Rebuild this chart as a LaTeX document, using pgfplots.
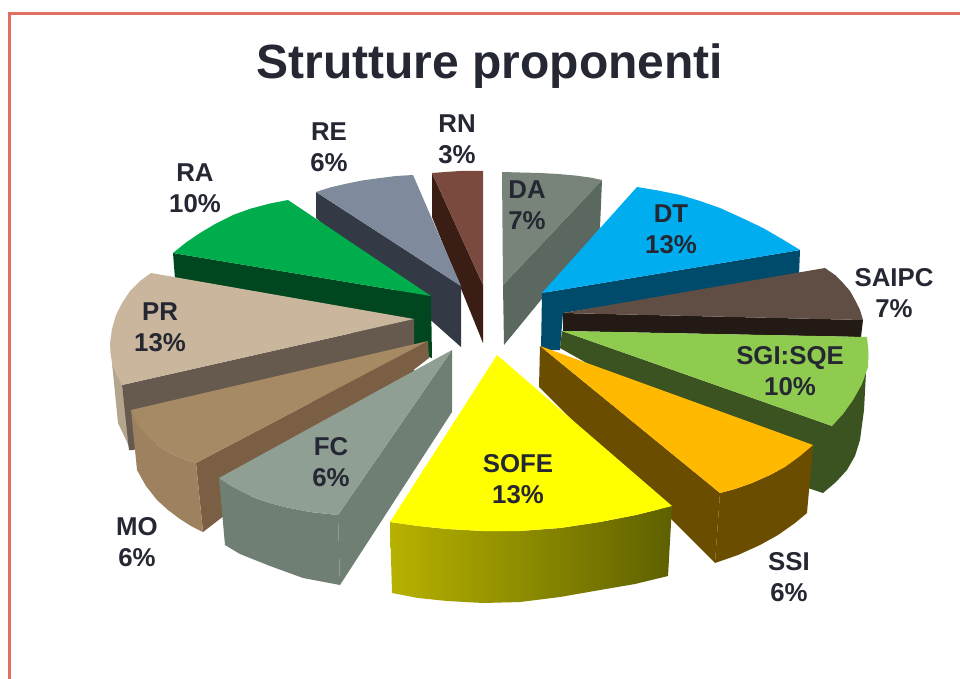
\documentclass[border=0pt]{standalone}
\usepackage{fontspec}
\setmainfont{Liberation Sans}
\usepackage{pgfplots}
\pgfplotsset{compat=1.18}
\definecolor{txt}{HTML}{252733}
\definecolor{bord}{HTML}{E07060}
\definecolor{rnS}{HTML}{3A1E15}\definecolor{rnT}{HTML}{7A4A3E}
\definecolor{reS}{HTML}{333A45}\definecolor{reT}{HTML}{7F8B9C}
\definecolor{raS}{HTML}{00471F}\definecolor{raT}{HTML}{00AD4D}
\definecolor{prW}{HTML}{B5A48E}\definecolor{prS}{HTML}{665A4E}\definecolor{prT}{HTML}{C9B69C}
\definecolor{moS}{HTML}{7A5F44}\definecolor{moW}{HTML}{9E8260}\definecolor{moT}{HTML}{A68A64}
\definecolor{fcS}{HTML}{6F7F74}\definecolor{fcT}{HTML}{8F9F94}
\definecolor{daS}{HTML}{5B6860}\definecolor{daT}{HTML}{78847A}
\definecolor{dtS}{HTML}{004A6B}\definecolor{dtT}{HTML}{00ADEF}
\definecolor{saS}{HTML}{231A15}\definecolor{saT}{HTML}{604E44}
\definecolor{sgS}{HTML}{3B5320}\definecolor{sgT}{HTML}{8FCB4F}
\definecolor{ssS}{HTML}{6B4D00}\definecolor{ssT}{HTML}{FFB900}
\definecolor{soL}{HTML}{B7B200}\definecolor{soR}{HTML}{5E6000}\definecolor{soT}{HTML}{FFFF00}
\newcommand{\poly}[2]{\addplot[fill=#1,draw=none,no marks,forget plot] coordinates {#2};}
\newcommand{\lab}[4]{\node[text=txt,align=center,inner sep=0pt,font=\bfseries\fontsize{25.8}{31}\selectfont] at (axis cs:#1,#2) {#3\\#4};}
\begin{document}
\begin{tikzpicture}
\begin{axis}[
  width=960pt,height=679pt,scale only axis,
  xmin=0,xmax=960,ymin=0,ymax=679,y dir=reverse,
  hide axis,clip=true]
% page frame (white)
\poly{white}{(0,0)(960,0)(960,679)(0,679)}
% border
\poly{bord}{(8.2,679)(8.2,12.2)(960,12.2)(960,14.8)(10.8,14.8)(10.8,679)}
% RN
\poly{rnS}{(432,173)(483,285)(483,343)(432,217)}
\poly{rnT}{(432,173)(445,172)(460,171)(483,171)(483,285)}
% RE
\poly{reS}{(316,192)(461,286)(461,347)(316,218)}
\poly{reT}{(316,192)(330,187.5)(345,184)(362,180.5)(380,178)(396,176)(413,175)(461,286)}
% RA
\poly{raS}{(173,253)(431,296)(432,358)(175,279)}
\poly{raT}{(173,253)(186,242.5)(200,233)(216,223.5)(233,215)(251,208.5)(270,203.5)(288,200)(431,296)}
% PR
\poly{prW}{(112,363)(118,423)(127,442)(130,450)(122,385)}
\poly{prS}{(122,385)(414,319)(414,375)(133,450)(129,450)}
\poly{prT}{(151,273)(140,281)(130,291)(122,303)(116,315)(112,329)(110,343)(110.5,353)(112,363)(116,374)(122,385)(414,319)}
% MO
\poly{moS}{(196,463)(428,341)(429,358)(203,532)}
\poly{moW}{(131,410)(137,470)(146,486)(157,500)(168,510)(180,519)(191,526)(203,532)(196,463)(181,458)(168,452)(157,445)(148,437)(140,428)(135,420)}
\poly{moT}{(131,410)(135,420)(140,428)(148,437)(157,445)(168,452)(181,458)(196,463)(428,341)}
% FC
\poly{fcS}{(338,515)(452,350)(452,412)(340,585)}
\poly{fcS}{(219,478)(225,545)(240,554)(255,560)(270,566)(303,578)(340,585)(338,515)(310,512)(285,507)(270,503)(255,498)(240,491)(229,485)}
\poly{fcT}{(219,478)(229,485)(240,491)(255,498)(270,503)(285,507)(310,512)(338,515)(452,350)}
% DA
\poly{daS}{(602,180)(600,228)(504,345)(503,285)}
\poly{daT}{(502,172)(520,172.5)(540,173)(558,174)(575,175.5)(590,177.5)(602,180)(503,285)}
% DT
\poly{dtS}{(542,293)(800,250)(799,275)(563,313)(560,350)(541,350)}
\poly{dtT}{(637,187)(658,190.5)(680,195)(700,201)(720,208)(742,218)(763,228)(782,239)(800,250)(542,293)}
% SAIPC
\poly{saS}{(563,313)(863,320)(861,337)(563,331)}
\poly{saT}{(563,313)(825,268)(835,275)(843,283)(850,291)(855,300)(860,310)(863,320)}
% SGI:SQE
\poly{sgS}{(562,331)(832,426)(866,372)(864,410)(860,440)(855,456)(847,470)(836,482)(823,493)(808,488)(560,348)}
\poly{sgT}{(562,331)(867,337)(868.5,352)(868,367)(862,384)(853,400)(843,414)(832,426)}
% SSI
\poly{ssS}{(540,346)(720,493)(715,563)(539,387)}
\poly{ssS}{(720,493)(715,563)(738,555)(760,545)(778,535)(795,523)(807,513)(813,445)(800,456)(785,467)(770,475)(752,483)(735,489)}
\poly{ssT}{(540,346)(813,445)(800,456)(785,467)(770,475)(752,483)(735,489)(720,493)}
% SOFE
\addplot[shade,left color=soL,right color=soR,draw=none,no marks,forget plot] coordinates {(390,522)(392,593)(418,598)(447,601)(483,603)(520,602)(560,597)(600,590)(635,584)(668,576)(672,506)(636,515)(600,522)(560,528)(520,531)(483,531)(447,529)(418,526)};
\poly{soT}{(497,355)(390,522)(418,526)(447,529)(483,531)(520,531)(560,528)(600,522)(636,515)(672,506)}
% labels
\node[text=txt,inner sep=0pt,font=\bfseries\fontsize{48}{50}\selectfont] at (axis cs:490,66) {Strutture proponenti};
\lab{457}{139}{RN}{3\%}
\lab{329}{147}{RE}{6\%}
\lab{195}{188}{RA}{10\%}
\lab{160}{327}{PR}{13\%}
\lab{527}{205}{DA}{7\%}
\lab{671}{229}{DT}{13\%}
\lab{894}{293}{SAIPC}{7\%}
\lab{790}{371}{SGI:SQE}{10\%}
\lab{518}{479}{SOFE}{13\%}
\lab{789}{577}{SSI}{6\%}
\lab{137}{542}{MO}{6\%}
\lab{331}{462}{FC}{6\%}
\end{axis}
\end{tikzpicture}
\end{document}
